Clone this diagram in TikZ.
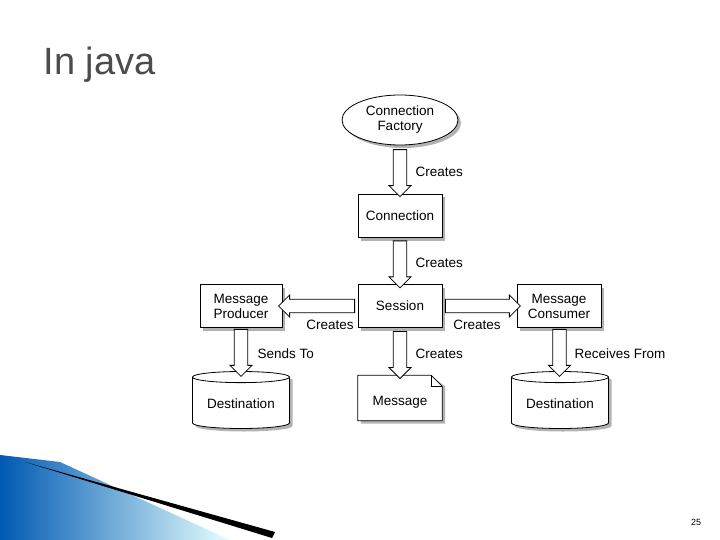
\documentclass[tikz,border=0pt]{standalone}
\usepackage{fontspec}
\setmainfont{Liberation Sans}
\usetikzlibrary{shapes, shapes.geometric, shapes.arrows, positioning, shadows, calc}

\begin{document}
\begin{tikzpicture}[x=1pt, y=-1pt, font=\fontsize{13.5}{15}\selectfont,
        box/.style={rectangle, draw, fill=white, thick, minimum width=84pt, minimum height=43pt, align=center,
            drop shadow={shadow xshift=3pt, shadow yshift=-3pt, fill=gray!60, opacity=1}},
        db/.style={cylinder, shape border rotate=90, aspect=0.15, draw, fill=white, thick, minimum width=97pt, minimum height=57pt,
            drop shadow={shadow xshift=3pt, shadow yshift=-3pt, fill=gray!60, opacity=1}},
        flow/.style={single arrow, draw, fill=white, thick, single arrow head extend=4pt, minimum width=22pt, inner sep=6pt, font=\tiny},
        lbl/.style={font=\fontsize{13.5}{15}\selectfont}]
    \useasboundingbox (0,0) rectangle (720,540);

    % slide decoration
    \shade[left color=blue!50!cyan!70!black, right color=cyan!10] (0,455) -- (60,462) -- (230,540) -- (0,540) -- cycle;
    \fill[black] (25,462) -- (275,532) -- (272,538) -- cycle;
    \node[font=\fontsize{38}{42}\selectfont, text=gray!60!black, anchor=west] (title) at (40,65) {In java};
    \node[font=\fontsize{9}{10}\selectfont] (page) at (696,522) {25};

    % nodes
    \node (factory) [ellipse, draw, fill=white, thick, minimum width=116pt, minimum height=50pt, align=center, inner sep=1pt,
        drop shadow={shadow xshift=3pt, shadow yshift=-3pt, fill=gray!60, opacity=1}] at (400,120) {Connection\\Factory};
    \node (conn) [box] at (400,216) {Connection};
    \node (session) [box] at (400,306) {Session};
    \node (producer) [box, minimum width=82pt] at (241,306) {Message\\Producer};
    \node (consumer) [box] at (559,306) {Message\\Consumer};
    \node (dest1) [db] at (241,404) {Destination};
    \node (dest2) [db] at (560,404) {Destination};
    \node (msg) [minimum width=84pt, minimum height=45pt] at (400,398) {};
    \fill[gray!60] ($(msg.north west)+(3,3)$) -- ($(msg.north east)+(-8,3)$) -- ($(msg.north east)+(3,11)$) -- ($(msg.south east)+(3,3)$) -- ($(msg.south west)+(3,3)$) -- cycle;
    \draw[thick, fill=white] (msg.north west) -- ($(msg.north east)+(-11,0)$) -- ($(msg.north east)+(0,11)$) -- (msg.south east) -- (msg.south west) -- cycle;
    \draw[thick] ($(msg.north east)+(-11,0)$) |- ($(msg.north east)+(0,11)$);
    \node at ($(msg)+(0,4)$) {Message};

    % connectors
    \node (a1) [flow, shape border rotate=270, minimum height=47pt] at ($(factory.south)!0.5!(conn.north)$) {};
    \node (a2) [flow, shape border rotate=270, minimum height=47pt] at ($(conn.south)!0.5!(session.north)$) {};
    \node (a3) [flow, shape border rotate=180, minimum height=76pt] at ($(session.west)!0.5!(producer.east)$) {};
    \node (a4) [flow, shape border rotate=0, minimum height=75pt] at ($(session.east)!0.5!(consumer.west)$) {};
    \node (a5) [flow, shape border rotate=270, minimum height=47pt] at ($(producer.south)!0.5!(dest1.north)$) {};
    \node (a6) [flow, shape border rotate=270, minimum height=47pt] at ($(session.south)!0.5!(msg.north)$) {};
    \node (a7) [flow, shape border rotate=270, minimum height=47pt] at ($(consumer.south)!0.5!(dest2.north)$) {};

    % labels
    \node[lbl, anchor=west] at (412,172) {Creates};
    \node[lbl, anchor=west] at (412,263) {Creates};
    \node[lbl] at (330,325) {Creates};
    \node[lbl] at (477,325) {Creates};
    \node[lbl, anchor=west] at (254,354) {Sends To};
    \node[lbl, anchor=west] at (412,354) {Creates};
    \node[lbl, anchor=west] at (571,354) {Receives From};
\end{tikzpicture}
\end{document}
